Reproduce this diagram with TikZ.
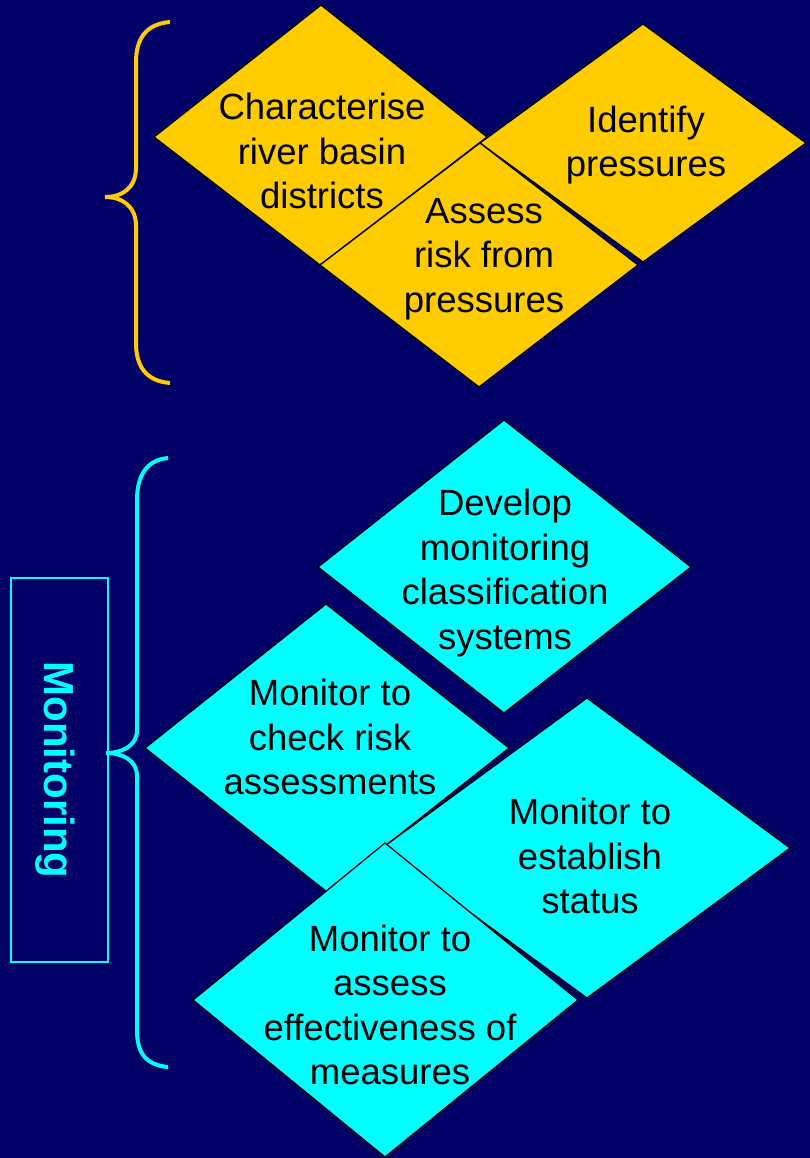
\documentclass[tikz,border=0pt]{standalone}
\usepackage{fontspec}
\setmainfont{Liberation Sans}
\definecolor{navy}{RGB}{0,0,102}
\definecolor{gold}{RGB}{255,204,0}
\definecolor{aqua}{RGB}{0,255,255}
\begin{document}
\begin{tikzpicture}[x=1pt,y=-1pt,
  dia/.style={draw=black, line width=1.3pt, line join=miter},
  lbl/.style={align=center, font=\fontsize{36.5}{44.5}\selectfont, text=black, inner sep=0pt},
  bracestroke/.style={line width=4pt}]
\useasboundingbox (0,0) rectangle (810,1158);
\fill[navy] (0,0) rectangle (810,1158);

% braces
\draw[bracestroke, draw=gold] (170,22) .. controls (145,24) and (136,40) .. (136,62) -- (136,168)
  .. controls (136,188) and (122,197) .. (105,197) .. controls (122,197) and (136,206) .. (136,226)
  -- (136,343) .. controls (136,365) and (145,381) .. (170,383);
\draw[bracestroke, draw=aqua] (168,458) .. controls (145,460) and (137,478) .. (137,500) -- (137,730)
  .. controls (137,746) and (122,753) .. (106,753) .. controls (122,753) and (137,760) .. (137,776)
  -- (137,1030) .. controls (137,1052) and (145,1065) .. (168,1067);

% top group
\filldraw[dia, fill=gold] (154,137) -- (321,5) -- (487,137) -- (320,265) -- cycle;
\filldraw[dia, fill=gold] (480,143) -- (643,24) -- (806,143) -- (643,262) -- cycle;
\filldraw[dia, fill=gold] (320,265) -- (480,143) -- (638,265) -- (479,387) -- cycle;
\node[lbl] (char) at (322,151) {Characterise\\river basin\\districts};
\node[lbl] (ident) at (646,145) {Identify\\pressures};
\node[lbl] (assess) at (484,259) {Assess\\risk from\\pressures};

% bottom group
\filldraw[dia, fill=aqua] (318,567) -- (504,420) -- (691,567) -- (504,713) -- cycle;
\filldraw[dia, fill=aqua] (145,748) -- (326,604) -- (509,748) -- (327,892) -- cycle;
\filldraw[dia, fill=aqua] (382,848) -- (587,698) -- (790,848) -- (587,998) -- cycle;
\filldraw[dia, fill=aqua] (193,1000) -- (385,843) -- (578,1000) -- (385,1157) -- cycle;
\node[lbl] (develop) at (505,573) {Develop\\monitoring\\classification\\systems};
\node[lbl] (checkrisk) at (330,737) {Monitor to\\check risk\\assessments};
\node[lbl] (status) at (590,856) {Monitor to\\establish\\status};
\node[lbl] (effect) at (390,1005) {Monitor to\\assess\\effectiveness of\\measures};

% monitoring label
\node[draw=aqua, line width=1.5pt, minimum width=97pt, minimum height=384pt, inner sep=0pt] (monbox) at (59.5,770) {};
\node[rotate=-90, text=aqua, font=\fontsize{42}{50}\selectfont\bfseries, inner sep=0pt] (montext) at (55,770) {Monitoring};
\end{tikzpicture}
\end{document}
